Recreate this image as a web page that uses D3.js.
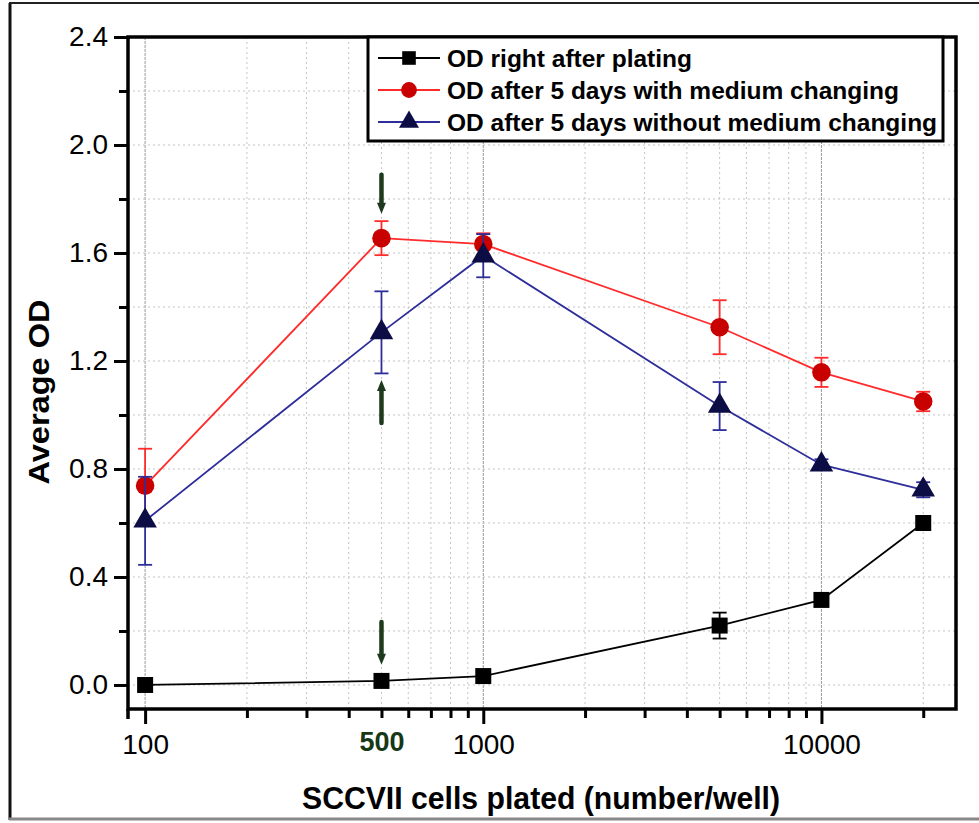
<!DOCTYPE html>
<html>
<head>
<meta charset="utf-8">
<script src="https://cdn.jsdelivr.net/npm/d3@7"></script>
<style>
  body { margin: 0; background: #fff; }
  svg { display: block; }
</style>
</head>
<body>
<script>
// OD vs number of SCCVII cells plated, log x axis

var cells = [100, 500, 1000, 5000, 10000, 20000];

var odPlating      = [0.0, 0.015, 0.033, 0.22, 0.315, 0.60];
var odPlatingErr   = [0.005, 0.005, 0.008, 0.048, 0.01, 0.02];
var odWith         = [0.738, 1.655, 1.633, 1.325, 1.158, 1.05];
var odWithErr      = [0.137, 0.063, 0.04, 0.1, 0.054, 0.036];
var odWithout      = [0.608, 1.306, 1.59, 1.033, 0.816, 0.723];
var odWithoutErr   = [0.163, 0.152, 0.08, 0.089, 0.02, 0.028];

var seriesNames = ["OD right after plating",
                   "OD after 5 days with medium changing",
                   "OD after 5 days without medium changing"];

var yTicks = [0.0, 0.4, 0.8, 1.2, 1.6, 2.0, 2.4];
var yMinor = [0.2, 0.6, 1.0, 1.4, 1.8, 2.2];
var xTicks = [100, 1000, 10000];
var xMinor = [200, 300, 400, 500, 600, 700, 800, 900,
              2000, 3000, 4000, 5000, 6000, 7000, 8000, 9000, 20000];

// arrows marking 500 cells: [from, to] in OD units
var arrows = [[1.89, 1.745], [0.97, 1.13], [0.233, 0.075]];

var width = 979;
var height = 823;
var margin = {top: 37, right: 23, bottom: 114, left: 128};

var tickFont = "'Liberation Sans Narrow', 'Arial Narrow', 'Liberation Sans', Arial, sans-serif";
var boldFont = "'Liberation Sans', Arial, sans-serif";

var svg = d3.select("body")
  .append("svg")
  .attr("width", width)
  .attr("height", height);

// scanned page frame
svg.append("line").attr("x1", 10).attr("x2", 10).attr("y1", 3).attr("y2", 820)
  .attr("stroke", "#111").attr("stroke-width", 3);
svg.append("line").attr("x1", 9).attr("x2", 979).attr("y1", 3).attr("y2", 3)
  .attr("stroke", "#222").attr("stroke-width", 2);
svg.append("line").attr("x1", 9).attr("x2", 979).attr("y1", 819).attr("y2", 819)
  .attr("stroke", "#888").attr("stroke-width", 3);

var x = d3.scaleLog()
  .domain([89, 25000])
  .range([margin.left, width - margin.right]);

var y = d3.scaleLinear()
  .domain([-0.089, 2.4])
  .range([height - margin.bottom, margin.top]);

var x0 = x.range()[0], x1 = x.range()[1];
var y0 = y.range()[0], y1 = y.range()[1];

var g = svg.append("g");

// grid
g.selectAll(".vgrid")
  .data(xMinor)
  .enter().append("line")
  .attr("x1", function(d) { return x(d); })
  .attr("x2", function(d) { return x(d); })
  .attr("y1", y1).attr("y2", y0)
  .attr("stroke", "#c4c4c4")
  .attr("stroke-dasharray", "2,3");

g.selectAll(".vgridMajor")
  .data(xTicks)
  .enter().append("line")
  .attr("x1", function(d) { return x(d); })
  .attr("x2", function(d) { return x(d); })
  .attr("y1", y1).attr("y2", y0)
  .attr("stroke", "#999")
  .attr("stroke-dasharray", "3,1");

g.selectAll(".hgrid")
  .data(yTicks.concat(yMinor))
  .enter().append("line")
  .attr("x1", x0).attr("x2", x1)
  .attr("y1", function(d) { return y(d); })
  .attr("y2", function(d) { return y(d); })
  .attr("stroke", "#c4c4c4")
  .attr("stroke-dasharray", "2,3");

// axes
var yAxis = g.append("g")
  .attr("transform", "translate(" + x0 + ",0)")
  .call(d3.axisLeft(y).tickValues(yTicks).tickSize(14).tickPadding(6)
    .tickFormat(d3.format(".1f")));
yAxis.select(".domain").remove();
yAxis.selectAll(".tick line").attr("stroke", "#000").attr("stroke-width", 3);
yAxis.selectAll("text")
  .style("font-family", tickFont)
  .style("font-size", "28px")
  .attr("fill", "#000");

var yAxisMinor = g.append("g")
  .attr("transform", "translate(" + x0 + ",0)")
  .call(d3.axisLeft(y).tickValues(yMinor).tickSize(9).tickFormat(""));
yAxisMinor.select(".domain").remove();
yAxisMinor.selectAll(".tick line").attr("stroke", "#000").attr("stroke-width", 3);

var xAxis = g.append("g")
  .attr("transform", "translate(0," + y0 + ")")
  .call(d3.axisBottom(x).tickValues(xTicks).tickSize(15).tickPadding(10)
    .tickFormat(d3.format("d")));
xAxis.select(".domain").remove();
xAxis.selectAll(".tick line").attr("stroke", "#000").attr("stroke-width", 3);
xAxis.selectAll("text")
  .style("font-family", tickFont)
  .style("font-size", "28px")
  .attr("fill", "#000");

var xAxisMinor = g.append("g")
  .attr("transform", "translate(0," + y0 + ")")
  .call(d3.axisBottom(x).tickValues(xMinor).tickSize(9).tickPadding(14)
    .tickFormat(function(d) { return d == 500 ? "500" : ""; }));
xAxisMinor.select(".domain").remove();
xAxisMinor.selectAll(".tick line").attr("stroke", "#000").attr("stroke-width", 3);
xAxisMinor.selectAll("text")
  .style("font-family", tickFont)
  .style("font-size", "27px")
  .style("font-weight", "bold")
  .attr("fill", "#163816");

// frame of the plot
g.append("rect")
  .attr("x", x0).attr("y", y1)
  .attr("width", x1 - x0).attr("height", y0 - y1)
  .attr("fill", "none")
  .attr("stroke", "#000")
  .attr("stroke-width", 3.5);
g.append("line")
  .attr("x1", x0).attr("x2", x0).attr("y1", y0).attr("y2", y0 + 10)
  .attr("stroke", "#000").attr("stroke-width", 3.5);

// arrows at 500
arrows.forEach(function(a) {
  var xa = x(500);
  var ya = y(a[0]), yb = y(a[1]);
  var dir = yb > ya ? 1 : -1;
  g.append("line")
    .attr("x1", xa).attr("x2", xa)
    .attr("y1", ya).attr("y2", yb - dir * 8)
    .attr("stroke", "#1d3a1d").attr("stroke-width", 4.5)
    .attr("stroke-linecap", "round");
  g.append("path")
    .attr("d", "M" + (xa - 4.5) + "," + (yb - dir * 11) + "L" + (xa + 4.5) + "," + (yb - dir * 11) + "L" + xa + "," + yb + "Z")
    .attr("fill", "#1d3a1d");
});

// series
var series = [
  {name: seriesNames[0], vals: odPlating, err: odPlatingErr, line: "#000", fill: "#000", shape: "square"},
  {name: seriesNames[1], vals: odWith, err: odWithErr, line: "#ff2a2a", fill: "#c80000", shape: "circle"},
  {name: seriesNames[2], vals: odWithout, err: odWithoutErr, line: "#2e2e9a", fill: "#0d0d45", shape: "triangle"}
];

var symbols = {
  square: d3.symbol().type(d3.symbolSquare).size(256),
  circle: d3.symbol().type(d3.symbolCircle).size(270),
  triangle: d3.symbol().type(d3.symbolTriangle).size(240)
};

var line = d3.line()
  .x(function(d) { return x(d.c); })
  .y(function(d) { return y(d.v); });

series.forEach(function(s) {
  var pts = cells.map(function(c, i) { return {c: c, v: s.vals[i], e: s.err[i]}; });

  g.append("path")
    .datum(pts)
    .attr("fill", "none")
    .attr("stroke", s.line)
    .attr("stroke-width", 1.8)
    .attr("d", line);

  var eb = g.append("g").selectAll("g").data(pts).enter().append("g")
    .attr("stroke", s.line)
    .attr("stroke-width", 1.8);
  eb.append("line")
    .attr("x1", function(d) { return x(d.c); })
    .attr("x2", function(d) { return x(d.c); })
    .attr("y1", function(d) { return y(d.v + d.e); })
    .attr("y2", function(d) { return y(d.v - d.e); });
  eb.append("line")
    .attr("x1", function(d) { return x(d.c) - 7; })
    .attr("x2", function(d) { return x(d.c) + 7; })
    .attr("y1", function(d) { return y(d.v + d.e); })
    .attr("y2", function(d) { return y(d.v + d.e); });
  eb.append("line")
    .attr("x1", function(d) { return x(d.c) - 7; })
    .attr("x2", function(d) { return x(d.c) + 7; })
    .attr("y1", function(d) { return y(d.v - d.e); })
    .attr("y2", function(d) { return y(d.v - d.e); });

  g.append("g").selectAll("path").data(pts).enter().append("path")
    .attr("transform", function(d) { return "translate(" + x(d.c) + "," + y(d.v) + ")"; })
    .attr("d", symbols[s.shape])
    .attr("fill", s.fill);
});

// legend
var lg = g.append("g");
lg.append("rect")
  .attr("x", 368).attr("y", y1)
  .attr("width", 575).attr("height", 104)
  .attr("fill", "#fff")
  .attr("stroke", "#000")
  .attr("stroke-width", 3);

series.forEach(function(s, i) {
  var ly = 58 + i * 32;
  lg.append("line")
    .attr("x1", 378).attr("x2", 440)
    .attr("y1", ly).attr("y2", ly)
    .attr("stroke", s.line).attr("stroke-width", 1.8);
  lg.append("path")
    .attr("transform", "translate(409," + ly + ") scale(0.85)")
    .attr("d", symbols[s.shape])
    .attr("fill", s.fill);
  lg.append("text")
    .attr("x", 447).attr("y", ly)
    .attr("dy", "0.36em")
    .style("font-family", boldFont)
    .style("font-weight", "bold")
    .style("font-size", "24.5px")
    .text(s.name);
});

// axis titles
svg.append("text")
  .attr("transform", "translate(49,392) rotate(-90)")
  .attr("text-anchor", "middle")
  .attr("textLength", 185)
  .attr("lengthAdjust", "spacingAndGlyphs")
  .style("font-family", boldFont)
  .style("font-weight", "bold")
  .style("font-size", "30px")
  .text("Average OD");

svg.append("text")
  .attr("x", 541).attr("y", 809)
  .attr("text-anchor", "middle")
  .attr("textLength", 478)
  .attr("lengthAdjust", "spacingAndGlyphs")
  .style("font-family", boldFont)
  .style("font-weight", "bold")
  .style("font-size", "31px")
  .text("SCCVII cells plated (number/well)");
</script>
</body>
</html>
